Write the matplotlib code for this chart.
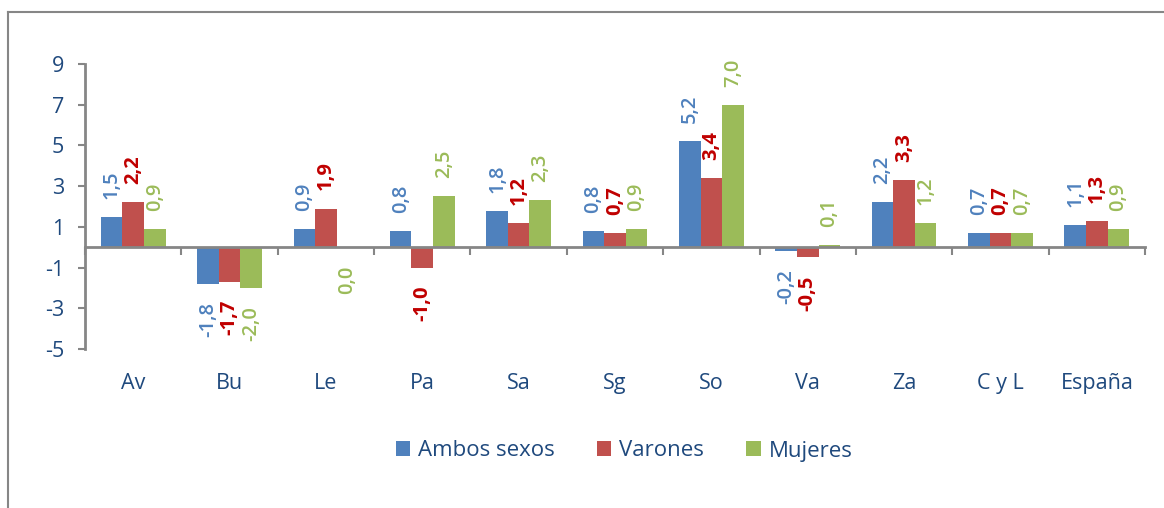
import numpy as np
import matplotlib
matplotlib.use('Agg')
import matplotlib.pyplot as plt
from matplotlib.lines import Line2D

plt.rcParams['font.family'] = ['Open Sans', 'DejaVu Sans']
plt.rcParams['axes.unicode_minus'] = False

# Datos por provincia
provincias = ['Av', 'Bu', 'Le', 'Pa', 'Sa', 'Sg', 'So', 'Va', 'Za', 'C y L', 'España']
ambos = [1.5, -1.8, 0.9, 0.8, 1.8, 0.8, 5.2, -0.2, 2.2, 0.7, 1.1]
varones = [2.2, -1.7, 1.9, -1.0, 1.2, 0.7, 3.4, -0.5, 3.3, 0.7, 1.3]
mujeres = [0.9, -2.0, 0.0, 2.5, 2.3, 0.9, 7.0, 0.1, 1.2, 0.7, 0.9]

series = [
    ('Ambos sexos', ambos, '#4F81BD', '#4F81BD', 600),
    ('Varones', varones, '#C0504D', '#C00000', 'bold'),
    ('Mujeres', mujeres, '#9BBB59', '#9BBB59', 600),
]

texto = '#1F497D'
gris = '#868686'

fig = plt.figure(figsize=(11.64, 5.08), dpi=100)
ax = fig.add_axes([85 / 1164, 1 - 349 / 508, (1145 - 85) / 1164, 285 / 508])

x = np.arange(len(provincias))
ancho = 0.224

for i, (nombre, valores, color, color_txt, peso) in enumerate(series):
    pos = x + (i - 1) * ancho
    ax.bar(pos, valores, ancho, color=color, label=nombre, zorder=2)
    for px, v in zip(pos, valores):
        etiqueta = f'{v:.1f}'.replace('.', ',')
        if v > 0:
            ax.annotate(etiqueta, (px, v), xytext=(0, 13), textcoords='offset points',
                        rotation=90, ha='center', va='bottom', fontsize=14.5,
                        color=color_txt, fontweight=peso)
        else:
            ax.annotate(etiqueta, (px, v), xytext=(0, -13), textcoords='offset points',
                        rotation=90, ha='center', va='top', fontsize=14.5,
                        color=color_txt, fontweight=peso)

ax.set_xlim(-0.5, len(provincias) - 0.5)
ax.set_ylim(-5, 9)
ax.set_yticks(np.arange(-5, 10, 2))

# Eje horizontal en el cero con marcas entre categorías
for lado in ['top', 'right']:
    ax.spines[lado].set_visible(False)
ax.spines['bottom'].set_position(('data', 0))
ax.spines['bottom'].set_color(gris)
ax.spines['bottom'].set_linewidth(2)
ax.spines['bottom'].set_zorder(3)
ax.spines['left'].set_color(gris)
ax.spines['left'].set_linewidth(2)

ax.set_xticks(x)
ax.set_xticklabels([])
ax.tick_params(axis='x', which='major', length=0)
ax.set_xticks(np.arange(-0.5, len(provincias), 1), minor=True)
ax.tick_params(axis='x', which='minor', length=6, width=1.5, color=gris, direction='out')
ax.tick_params(axis='y', length=5, width=1.5, color=gris, labelcolor=texto,
               labelsize=15.5, pad=10)

for px, nombre in zip(x, provincias):
    ax.text(px, -0.12, nombre, transform=ax.get_xaxis_transform(),
            ha='center', va='center', fontsize=15.5, color=texto)

leg = fig.legend(loc='center', bbox_to_anchor=(624 / 1164, 1 - 451 / 508), ncol=3,
                 frameon=False, fontsize=16, handlelength=0.65, handleheight=0.65,
                 handletextpad=0.35, columnspacing=1.9)
for t in leg.get_texts():
    t.set_color(texto)

# Marco del gráfico
fig.add_artist(Line2D([8 / 1164, 8 / 1164], [0, 1 - 12 / 508], color=gris, lw=1.5))
fig.add_artist(Line2D([8 / 1164, 1], [1 - 12 / 508, 1 - 12 / 508], color=gris, lw=1.5))

fig.savefig('out.png', dpi=100)
